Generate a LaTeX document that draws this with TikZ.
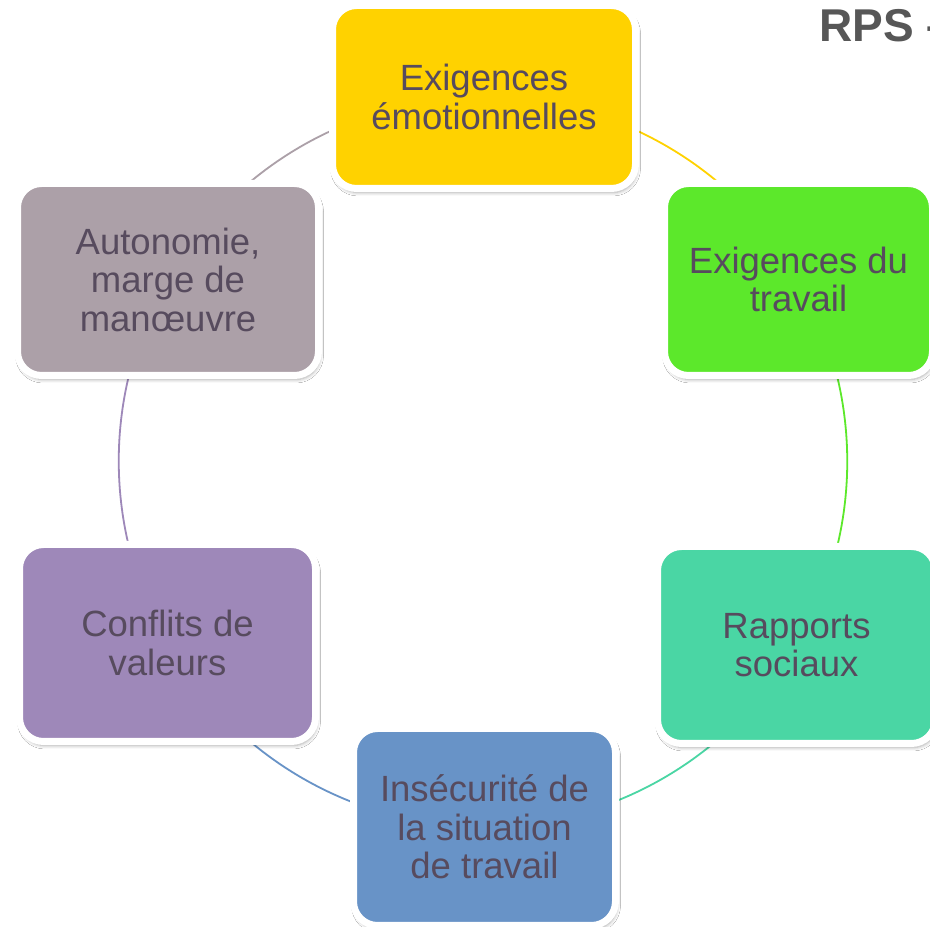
\documentclass[tikz,border=0pt]{standalone}
\usepackage{fontspec}
\setmainfont{Liberation Sans}
\usetikzlibrary{backgrounds,shadows.blur}

\definecolor{txt}{HTML}{574B5E}
\definecolor{rpsgray}{HTML}{575757}
\definecolor{cYel}{HTML}{FFD200}
\definecolor{cGrn}{HTML}{5CE82B}
\definecolor{cTea}{HTML}{4AD6A4}
\definecolor{cBlu}{HTML}{6893C7}
\definecolor{cPur}{HTML}{9E88B9}
\definecolor{cGra}{HTML}{ACA0A8}

\begin{document}
\begin{tikzpicture}[x=1pt,y=1pt,
  box/.style={rounded corners=24pt, draw=white, line width=7pt,
    inner sep=0pt, align=center, text=txt,
    font=\fontsize{36.5}{38.5}\selectfont,
    blur shadow={shadow xshift=1.5pt, shadow yshift=-4pt,
      shadow blur radius=3.5pt, shadow opacity=35}},
  ring/.style={line width=1.8pt}
]
\useasboundingbox (0,0) rectangle (930,927);
\clip (0,0) rectangle (930,927);

% the six factors, placed round a circle centred at (483,465)
\node[box, fill=cYel, minimum width=303, minimum height=183] (yel) at (484,830)
  {Exigences\\émotionnelles};
\node[box, fill=cGrn, minimum width=268, minimum height=192] (grn) at (798.5,647.5)
  {Exigences du\\travail};
\node[box, fill=cTea, minimum width=278, minimum height=197] (tea) at (796.5,282)
  {Rapports\\sociaux};
\node[box, fill=cBlu, minimum width=262, minimum height=197] (blu) at (484.5,100)
  {Insécurité de\\la situation\\de travail};
\node[box, fill=cPur, minimum width=296, minimum height=197] (pur) at (167.5,284)
  {Conflits de\\valeurs};
\node[box, fill=cGra, minimum width=301, minimum height=192] (gra) at (168,647.5)
  {Autonomie,\\marge de\\manœuvre};

% ring segments behind the boxes
\begin{scope}[on background layer]
  \fill[white] (0,0) rectangle (930,927);
  \draw[ring, cYel] (yel.center) arc[start angle=90,  end angle=30,   radius=364];
  \draw[ring, cGrn] (grn.center) arc[start angle=30,  end angle=-30,  radius=364];
  \draw[ring, cTea] (tea.center) arc[start angle=-30, end angle=-90,  radius=364];
  \draw[ring, cBlu] (blu.center) arc[start angle=270, end angle=210,  radius=364];
  \draw[ring, cPur] (pur.center) arc[start angle=210, end angle=150,  radius=364];
  \draw[ring, cGra] (gra.center) arc[start angle=150, end angle=90,   radius=364];
\end{scope}

% title, running off the right edge
\node[anchor=base west, inner sep=0pt, text=rpsgray,
  font=\bfseries\fontsize{46}{50}\selectfont] (title) at (819,885) {RPS –};
\end{tikzpicture}
\end{document}
